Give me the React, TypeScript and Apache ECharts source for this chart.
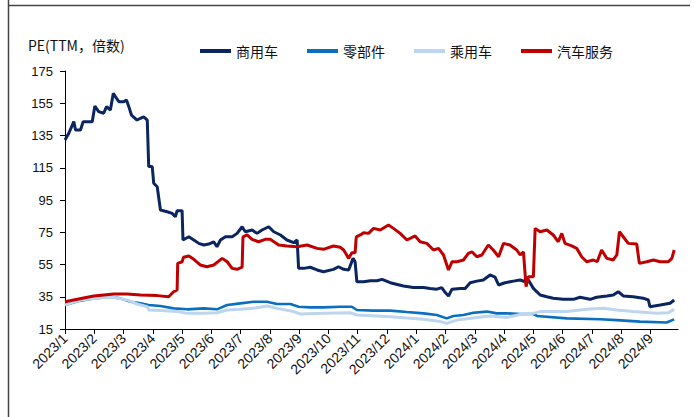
import React, { useEffect, useRef } from "react";
import * as echarts from "echarts";

// Month tick labels (x = month index from 2023/1)
const monthLabels: string[] = [
  "2023/1", "2023/2", "2023/3", "2023/4", "2023/5", "2023/6", "2023/7",
  "2023/8", "2023/9", "2023/10", "2023/11", "2023/12", "2024/1", "2024/2",
  "2024/3", "2024/4", "2024/5", "2024/6", "2024/7", "2024/8", "2024/9",
];

const seriesNames: string[] = ["商用车", "零部件", "乘用车", "汽车服务"];

// [month index, PE]
const commercial: [number, number][] = [
  [0, 132.2], [0.13, 136.4], [0.3, 143.6], [0.36, 138.4], [0.53, 138.4], [0.62, 143.6],
  [0.93, 143.6], [1.02, 153.3], [1.15, 149.8], [1.32, 148.8], [1.42, 152.9], [1.55, 150.8],
  [1.65, 161.2], [1.72, 159.1], [1.84, 156], [2.01, 156], [2.1, 157], [2.18, 152.9],
  [2.27, 147.7], [2.46, 144.6], [2.58, 145.7], [2.69, 146.5], [2.81, 144.6], [2.86, 115.7],
  [2.98, 115.7], [3.03, 105.4], [3.15, 103.2], [3.26, 88.8], [3.49, 87.7], [3.66, 86.7],
  [3.77, 84.6], [3.83, 88.4], [4.0, 88.4], [4.03, 70.2], [4.23, 72.2], [4.4, 70.2],
  [4.57, 68.1], [4.74, 67.1], [4.91, 67.7], [5.08, 69.1], [5.19, 66.0], [5.31, 70.2],
  [5.48, 72.2], [5.71, 72.2], [5.88, 74.3], [6.05, 78.4], [6.16, 75.3], [6.39, 76.4],
  [6.56, 74.3], [6.73, 76.4], [6.96, 78.4], [7.13, 75.3], [7.36, 73.3], [7.58, 70.2],
  [7.81, 68.5], [7.93, 70.2], [7.98, 52.6], [8.15, 52.6], [8.38, 53.3], [8.61, 51.6],
  [8.83, 50.5], [9.17, 52], [9.34, 53.6], [9.52, 52], [9.69, 51.6], [9.84, 58.8],
  [9.91, 56.7], [9.97, 44.3], [10.2, 44.3], [10.43, 44.9], [10.66, 44.9], [10.83, 45.8],
  [11.11, 43.7], [11.56, 41.7], [11.9, 40.7], [12.25, 40.7], [12.47, 40.1], [12.7, 39.7],
  [12.87, 40.7], [12.99, 37.6], [13.1, 35.5], [13.22, 39.7], [13.5, 40.1], [13.67, 40.1],
  [13.84, 43.7], [14.07, 44.7], [14.29, 45.4], [14.52, 48.5], [14.69, 47.1], [14.81, 42.3],
  [15.03, 43.7], [15.32, 44.7], [15.55, 45.4], [15.72, 44.3], [15.83, 45.4], [16.0, 40.2],
  [16.23, 36.1], [16.46, 35.0], [16.68, 34.1], [17.02, 33.4], [17.37, 33.4], [17.59, 34.7],
  [17.94, 33.4], [18.16, 34.7], [18.51, 35.5], [18.73, 36.1], [18.9, 38.1], [19.07, 35.5],
  [19.41, 35.0], [19.75, 34.1], [19.93, 33.0], [19.98, 28.8], [20.33, 29.9], [20.67, 31.0],
  [20.81, 33.0],
];

const parts: [number, number][] = [
  [0, 29.9], [0.53, 32.6], [0.98, 34.0], [1.55, 35.0], [1.89, 34.0], [2.24, 31.9],
  [2.58, 30.9], [2.86, 29.9], [3.26, 29.3], [3.71, 27.8], [4.17, 27.2], [4.74, 27.8],
  [5.19, 27.2], [5.54, 29.9], [5.99, 30.9], [6.44, 31.9], [6.9, 31.9], [7.24, 30.5],
  [7.7, 30.5], [7.98, 28.8], [8.38, 28.4], [8.83, 28.4], [9.4, 28.8], [9.8, 28.8],
  [9.97, 26.8], [10.54, 26.4], [11.11, 26.4], [11.68, 25.5], [12.25, 24.7], [12.7, 23.7],
  [13.04, 21.6], [13.27, 23.1], [13.61, 23.7], [13.95, 25.1], [14.41, 25.8], [14.75, 24.7],
  [15.09, 24.7], [15.55, 24.3], [16.0, 24.3], [16.12, 23.1], [17.14, 21.6], [18.28, 21.0],
  [18.85, 20.5], [19.64, 19.6], [20.55, 19.0], [20.81, 21.0],
];

const passenger: [number, number][] = [
  [0, 30], [0.53, 33.0], [1.55, 35.0], [2.12, 33.0], [2.46, 30.5], [2.81, 28.8],
  [2.86, 26.8], [3.26, 26.4], [3.83, 25.8], [4.17, 24.7], [4.74, 24.7], [5.19, 25.1],
  [5.54, 26.8], [5.99, 27.2], [6.44, 27.8], [6.9, 29.3], [7.24, 27.8], [7.81, 25.8],
  [8.04, 24.3], [8.83, 24.7], [9.74, 25.1], [9.97, 23.7], [11.11, 22.6], [12.25, 21.0],
  [12.82, 19.6], [13.04, 18.5], [13.39, 20.5], [14.07, 22.2], [14.52, 23.1], [15.09, 22.2],
  [15.55, 24.0], [16.0, 24.7], [16.23, 25.8], [17.14, 25.8], [17.82, 27.2], [18.39, 27.8],
  [18.85, 26.8], [19.41, 25.8], [19.75, 25.4], [20.21, 24.7], [20.61, 25.1], [20.81, 27.2],
];

const service: [number, number][] = [
  [0, 31.9], [0.42, 33.4], [0.98, 35.5], [1.67, 36.7], [2.12, 36.7], [2.58, 36.1],
  [3.15, 35.7], [3.54, 35.0], [3.71, 38.1], [3.83, 39.2], [3.85, 55.7], [4.0, 56.7],
  [4.05, 59.5], [4.23, 60.3], [4.4, 58.2], [4.62, 54.7], [4.85, 53.6], [5.08, 54.7],
  [5.37, 58.8], [5.54, 56.7], [5.71, 52.6], [5.88, 52.0], [6.05, 53.3], [6.08, 72.2],
  [6.22, 73.3], [6.39, 70.6], [6.61, 69.1], [6.84, 70.6], [7.01, 70.6], [7.3, 67.1],
  [7.58, 66.5], [7.93, 66.0], [8.27, 67.1], [8.61, 65.0], [8.83, 64.4], [9.17, 66.5],
  [9.4, 65.7], [9.52, 64.0], [9.69, 58.8], [9.8, 62.3], [9.91, 62.3], [9.95, 72.2],
  [10.09, 73.3], [10.2, 74.7], [10.37, 74.3], [10.54, 77.4], [10.77, 76.4], [11.05, 79.5],
  [11.22, 77.4], [11.45, 74.3], [11.68, 70.2], [11.96, 72.7], [12.13, 69.1], [12.36, 68.1],
  [12.59, 64.0], [12.76, 65.0], [12.93, 60.9], [13.1, 51.6], [13.22, 56.7], [13.39, 56.7],
  [13.61, 57.8], [13.78, 61.9], [13.9, 62.9], [14.07, 59.8], [14.24, 60.9], [14.46, 67.1],
  [14.63, 64.0], [14.81, 59.8], [14.98, 68.1], [15.2, 67.1], [15.43, 64.0], [15.55, 60.9],
  [15.66, 62.9], [15.75, 41.2], [15.83, 47.4], [16.0, 47.4], [16.06, 77.4], [16.23, 75.3],
  [16.46, 76.4], [16.68, 73.3], [16.85, 69.1], [16.97, 74.3], [17.08, 68.1], [17.31, 66.5],
  [17.48, 65.0], [17.65, 59.8], [17.82, 56.7], [18.05, 57.8], [18.18, 56.7], [18.33, 64.0],
  [18.51, 58.8], [18.73, 57.8], [18.85, 60.9], [18.94, 75.3], [19.07, 72.2], [19.24, 68.1],
  [19.53, 67.7], [19.62, 55.7], [19.87, 56.7], [20.1, 57.8], [20.33, 56.7], [20.61, 56.7],
  [20.73, 58.8], [20.81, 64.0],
];

const colors: string[] = ["#0b2560", "#0a6fc0", "#bdd5ee", "#c00000"];
const tickIdx: number[] = monthLabels.map((_, i) => i);

export default function App() {
  const ref = useRef<HTMLDivElement>(null);
  useEffect(() => {
    if (!ref.current) return;
    const chart = echarts.init(ref.current, null, { renderer: "svg" });
    const font = "'Liberation Sans', Arial, sans-serif";
    const cjk = "'Noto Sans CJK SC', sans-serif";
    const datasets = [commercial, parts, passenger, service];
    const widths = [3, 2.6, 3, 3];
    chart.setOption({
      animation: false,
      backgroundColor: "#fff",
      color: colors,
      grid: { left: 65, right: 16, top: 71, bottom: 88, containLabel: false },
      legend: {
        data: seriesNames,
        left: 195,
        top: 39,
        icon: "rect",
        itemWidth: 31,
        itemHeight: 4,
        itemGap: 29,
        textStyle: { fontFamily: cjk, fontSize: 14, color: "#111" },
      },
      graphic: [
        {
          type: "text",
          left: 28,
          top: 38,
          style: { text: "PE(TTM，倍数)", fontFamily: cjk, fontSize: 14, fill: "#111" },
        },
        { type: "line", shape: { x1: 8.5, y1: 0, x2: 8.5, y2: 417 }, style: { stroke: "#444", lineWidth: 1.5 } },
        { type: "line", shape: { x1: 8, y1: 5.5, x2: 690, y2: 5.5 }, style: { stroke: "#444", lineWidth: 1.5 } },
      ],
      xAxis: {
        type: "value",
        min: 0,
        max: 20.94,
        interval: 1,
        splitLine: { show: false },
        axisLine: { show: true, onZero: false, lineStyle: { color: "#000", width: 1 } },
        axisTick: { show: true, length: 5, customValues: tickIdx, lineStyle: { color: "#000" } },
        axisLabel: {
          customValues: tickIdx,
          rotate: 45,
          margin: 7,
          fontSize: 14,
          fontFamily: font,
          color: "#111",
          formatter: (v: number) => (Math.abs(v - Math.round(v)) < 1e-6 ? monthLabels[Math.round(v)] ?? "" : ""),
        },
      },
      yAxis: {
        type: "value",
        min: 15,
        max: 175,
        interval: 20,
        splitLine: { show: false },
        axisLine: { show: true, lineStyle: { color: "#000", width: 1 } },
        axisTick: { show: true, length: 5, lineStyle: { color: "#000" } },
        axisLabel: { fontSize: 13, fontFamily: font, color: "#111", margin: 12 },
      },
      series: seriesNames.map((name, i) => ({
        name,
        type: "line",
        data: datasets[i],
        showSymbol: false,
        symbol: "none",
        lineStyle: { width: widths[i], color: colors[i] },
        itemStyle: { color: colors[i] },
      })),
    });
    return () => chart.dispose();
  }, []);
  return (
    <div
      ref={ref}
      style={{ position: "fixed", left: 0, top: 0, width: 694, height: 417, background: "#fff" }}
    />
  );
}
